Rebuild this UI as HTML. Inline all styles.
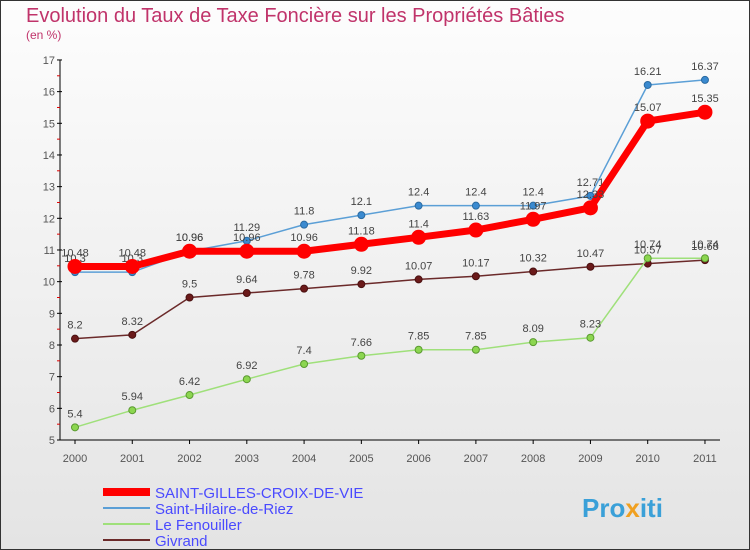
<!DOCTYPE html>
<html><head><meta charset="utf-8"><style>
body{margin:0}
svg{display:block;font-family:"Liberation Sans",sans-serif}
</style></head><body>
<svg id="c" width="750" height="550" viewBox="0 0 750 550">
<defs><linearGradient id="bg" x1="0" y1="0" x2="0" y2="1"><stop offset="0" stop-color="#fdfdfd"/><stop offset="1" stop-color="#e4e4e4"/></linearGradient></defs>
<rect x="0.5" y="0.5" width="749" height="549" fill="url(#bg)" stroke="#333"/>
<text x="26" y="22" font-size="20" fill="#c0336a">Evolution du Taux de Taxe Foncière sur les Propriétés Bâties</text>
<text x="26" y="39" font-size="12" fill="#c0336a">(en %)</text>
<g id="axes"></g><g id="series"></g>
<g>
<line x1="103" y1="492" x2="150" y2="492" stroke="#f00" stroke-width="8"/>
<text x="155" y="498" font-size="15" fill="#4a4aff">SAINT-GILLES-CROIX-DE-VIE</text>
<line x1="103" y1="508" x2="150" y2="508" stroke="#5b9fd6" stroke-width="2"/>
<text x="155" y="514" font-size="15" fill="#4a4aff">Saint-Hilaire-de-Riez</text>
<line x1="103" y1="524" x2="150" y2="524" stroke="#9fe07a" stroke-width="2"/>
<text x="155" y="530" font-size="15" fill="#4a4aff">Le Fenouiller</text>
<line x1="103" y1="540" x2="150" y2="540" stroke="#6b2a2a" stroke-width="2"/>
<text x="155" y="546" font-size="15" fill="#4a4aff">Givrand</text>
</g>
<text x="582" y="517" font-size="26" font-weight="bold" fill="#3aa0d8">Pro<tspan fill="#f0a020">x</tspan>iti</text>
</svg>
<script>
const years=["2000","2001","2002","2003","2004","2005","2006","2007","2008","2009","2010","2011"];
const yTicks=[5,6,7,8,9,10,11,12,13,14,15,16,17];
const sgcdv=[10.48,10.48,10.96,10.96,10.96,11.18,11.4,11.63,11.97,12.33,15.07,15.35];
const hilaire=[10.3,10.3,10.96,11.29,11.8,12.1,12.4,12.4,12.4,12.71,16.21,16.37];
const fenouiller=[5.4,5.94,6.42,6.92,7.4,7.66,7.85,7.85,8.09,8.23,10.74,10.74];
const givrand=[8.2,8.32,9.5,9.64,9.78,9.92,10.07,10.17,10.32,10.47,10.57,10.68];
const NS="http://www.w3.org/2000/svg";
const x=i=>75+i*57.27;
const y=v=>440-(v-5)*31.67;
function mk(t,a,p){const e=document.createElementNS(NS,t);for(const k in a)e.setAttribute(k,a[k]);p.appendChild(e);return e;}
const ax=document.getElementById('axes');
const yl=mk('line',{x1:60,y1:y(17),x2:60,y2:y(5),stroke:'#000'},ax);


const xl=mk('line',{x1:60,y1:y(5),x2:720,y2:y(5),stroke:'#000'},ax);


yTicks.forEach(v=>{
 mk('line',{x1:57,y1:y(v),x2:62,y2:y(v),stroke:'#000'},ax);
 if(v<17)mk('line',{x1:57,y1:y(v+0.5),x2:60,y2:y(v+0.5),stroke:'#d00'},ax);
 const t=mk('text',{x:55,y:y(v)+4,'text-anchor':'end','font-size':11,fill:'#555'},ax);
 t.textContent=v;
 
 
});
years.forEach((yr,i)=>{
 mk('line',{x1:x(i),y1:y(5),x2:x(i),y2:y(5)+4,stroke:'#000'},ax);
 const t=mk('text',{x:x(i),y:y(5)+22,'text-anchor':'middle','font-size':11,fill:'#555'},ax);
 t.textContent=yr;
 
 
});
const sg=document.getElementById('series');
function series(d,name,col,w,r,dot,dotStroke){
 const g=mk('g',{},sg);
 
 
 const p=mk('polyline',{points:d.map((v,i)=>x(i)+','+y(v)).join(' '),fill:'none',stroke:col,'stroke-width':w,'stroke-linejoin':'round'},g);
 
 
 d.forEach((v,i)=>{
  const c=mk('circle',{cx:x(i),cy:y(v),r:r,fill:dot,stroke:dotStroke,'stroke-width':1},g);
  
  
  const t=mk('text',{x:x(i),y:y(v)-10,'text-anchor':'middle','font-size':11,fill:'#444'},g);
  t.textContent=v;
  
  
 });
}
series(givrand,'givrand','#6b2a2a',1.5,3.5,'#6b1a1a','#4a1010');
series(fenouiller,'le-fenouiller','#9fe07a',1.5,3.5,'#8cd650','#5a9a30');
series(hilaire,'saint-hilaire','#5b9fd6',1.5,3.5,'#3a8ad0','#2a6aa0');
series(sgcdv,'saint-gilles','#ff0000',7,7,'#ff0000','#ff0000');
</script>
</body></html>
